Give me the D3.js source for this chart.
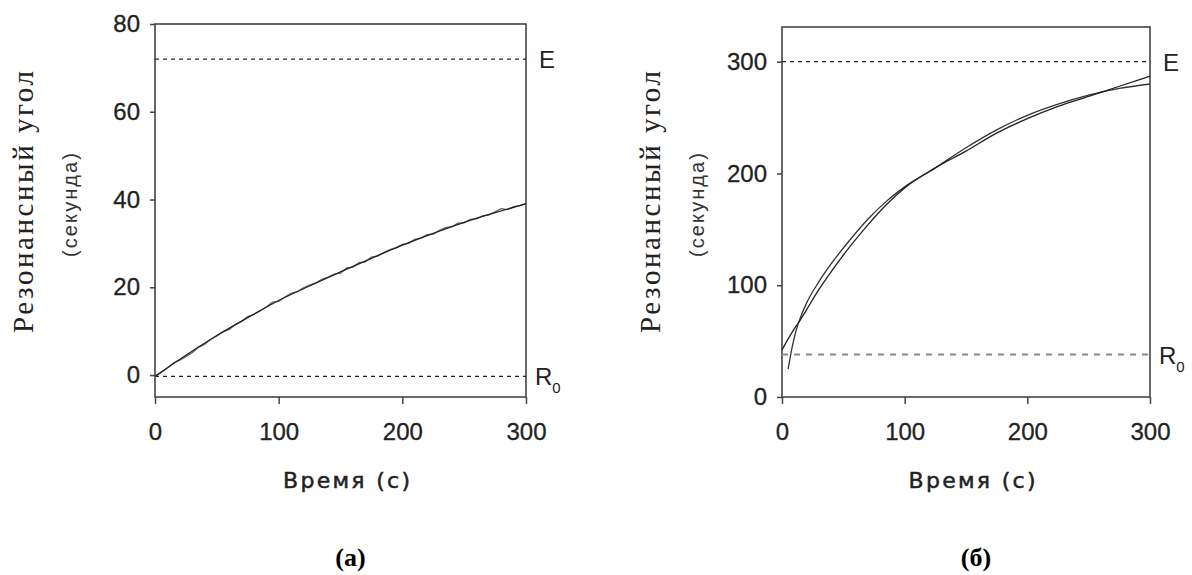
<!DOCTYPE html>
<html>
<head>
<meta charset="utf-8">
<script src="https://cdn.jsdelivr.net/npm/d3@7"></script>
<style>
  body { margin: 0; background: #fff; }
  svg { display: block; }
  .tick text { font-family: "Liberation Sans", Arial, sans-serif; font-size: 24px; fill: #222; stroke: #222; stroke-width: 0.3; }
  .tick line { stroke: #444; stroke-width: 1.5; }
</style>
</head>
<body>
<div id="chart"></div>
<script>
"use strict";

// svg size
var svgWidth = 1192;
var svgHeight = 575;

// chart (a): time axis and ticks
var timeTicks = [0, 100, 200, 300];
var ticksA = [0, 20, 40, 60, 80];
var levelEA = 72;
var levelR0A = -0.3;

// chart (a): smooth fitted curve
var fitTimeA = [0, 25, 50, 75, 100, 125, 150, 175, 200, 225, 250, 275, 300];
var fitValA = [-0.3, 4.5, 9.0, 13.1, 17.0, 20.3, 23.5, 26.6, 29.6, 32.3, 34.8, 37.0, 39.0];

// chart (a): measured trace, one reading every 5 s
var dataTimeA = [0, 5, 10, 15, 20, 25, 30, 35, 40, 45, 50, 55, 60, 65, 70, 75, 80, 85, 90, 95,
                 100, 105, 110, 115, 120, 125, 130, 135, 140, 145, 150, 155, 160, 165, 170, 175, 180, 185, 190, 195,
                 200, 205, 210, 215, 220, 225, 230, 235, 240, 245, 250, 255, 260, 265, 270, 275, 280, 285, 290, 295, 300];
var dataValA = [-0.4, 0.6, 1.6, 2.8, 3.4, 4.2, 5.1, 6.3, 7.0, 8.1, 8.9, 9.9, 10.4, 11.5, 12.2, 13.3, 13.8, 14.6, 15.5, 16.6,
                16.8, 17.8, 18.6, 19.0, 19.9, 20.5, 21.0, 21.8, 22.3, 23.0, 23.2, 24.4, 24.6, 25.6, 25.8, 26.9, 27.1, 27.9, 28.6, 29.0,
                29.8, 30.0, 30.9, 31.2, 32.0, 32.1, 33.0, 33.6, 33.8, 34.6, 34.7, 35.5, 35.6, 36.3, 36.5, 37.2, 37.9, 37.7, 38.4, 38.6, 39.1];

// chart (b)
var ticksB = [0, 100, 200, 300];
var levelEB = 300;
var levelR0B = 38;

var fitTimeB = [0, 5, 10, 15, 20, 30, 40, 55, 70, 85, 100, 125, 150, 175, 200, 225, 250, 275, 300];
var fitValB = [42, 52, 61, 69, 78, 96, 112, 134, 154, 172, 187, 205, 220, 236, 249, 260, 269, 278, 287];

var dataTimeB = [5, 8, 10, 13, 15, 20, 30, 40, 55, 70, 85, 100, 125, 150, 175, 200, 225, 250, 275, 300];
var dataValB = [25, 43, 53, 65, 71, 84, 103, 119, 140, 159, 175, 188, 205, 223, 239, 252, 262, 270, 276, 280];

var svg = d3.select("#chart").append("svg").attr("width", svgWidth).attr("height", svgHeight);

function zip(xs, ys) {
    return xs.map(function (x, i) { return {t: x, v: ys[i]}; });
}

function drawPanel(p) {
    var g = svg.append("g");
    var x = d3.scaleLinear().domain([0, 300]).range([p.left, p.right]);
    var y = d3.scaleLinear().domain(p.yDomain).range([p.bottom, p.top]);

    // frame
    g.append("rect")
        .attr("x", p.left).attr("y", p.top)
        .attr("width", p.right - p.left).attr("height", p.bottom - p.top)
        .attr("fill", "none").attr("stroke", "#444").attr("stroke-width", 1.6);

    // axes
    var xAxis = g.append("g").attr("transform", "translate(0," + p.bottom + ")")
        .call(d3.axisBottom(x).tickValues(timeTicks).tickSize(7).tickPadding(19));
    xAxis.select(".domain").remove();

    var yAxis = g.append("g").attr("transform", "translate(" + p.left + ",0)")
        .call(d3.axisLeft(y).tickValues(p.yTicks).tickSize(5).tickPadding(10));
    yAxis.select(".domain").remove();

    // reference levels
    g.append("line")
        .attr("x1", p.left).attr("x2", p.right)
        .attr("y1", y(p.levelE)).attr("y2", y(p.levelE))
        .attr("stroke", "#222").attr("stroke-width", 1.3).attr("stroke-dasharray", "4,4");
    g.append("line")
        .attr("x1", p.left).attr("x2", p.right)
        .attr("y1", y(p.levelR0)).attr("y2", y(p.levelR0))
        .attr("stroke", p.r0Color).attr("stroke-width", p.r0Width).attr("stroke-dasharray", p.r0Dash);

    g.append("text")
        .attr("x", p.right + 13).attr("y", y(p.levelE) + 9)
        .attr("font-family", "Liberation Sans, Arial, sans-serif").attr("font-size", 24).attr("fill", "#222")
        .text("E");
    var r0 = g.append("text")
        .attr("x", p.right + 9).attr("y", y(p.levelR0) + 9)
        .attr("font-family", "Liberation Sans, Arial, sans-serif").attr("font-size", 24).attr("fill", "#222");
    r0.append("tspan").text("R");
    r0.append("tspan").attr("font-size", 15).attr("dy", 8).text("0");

    // curves
    var line = d3.line()
        .x(function (d) { return x(d.t); })
        .y(function (d) { return y(d.v); });

    g.append("path").datum(zip(p.dataTime, p.dataVal))
        .attr("d", line.curve(p.dataCurve))
        .attr("fill", "none").attr("stroke", p.dataColor).attr("stroke-width", 1.3);
    g.append("path").datum(zip(p.fitTime, p.fitVal))
        .attr("d", line.curve(d3.curveMonotoneX))
        .attr("fill", "none").attr("stroke", "#222").attr("stroke-width", 1.3);

    // axis titles
    var cy = 202;
    g.append("text")
        .attr("transform", "translate(" + (p.left - 122) + "," + cy + ") rotate(-90)")
        .attr("text-anchor", "middle")
        .attr("font-family", "Liberation Serif, Times New Roman, serif").attr("font-size", 29).attr("fill", "#222")
        .attr("textLength", 262).attr("lengthAdjust", "spacing")
        .text("Резонансный угол");
    g.append("text")
        .attr("transform", "translate(" + (p.left - 78) + "," + (cy + 3) + ") rotate(-90)")
        .attr("text-anchor", "middle")
        .attr("font-family", "Liberation Sans, Arial, sans-serif").attr("font-size", 20).attr("fill", "#333")
        .attr("textLength", 104).attr("lengthAdjust", "spacing")
        .text("(секунда)");

    var mid = (p.left + p.right) / 2;
    g.append("text")
        .attr("x", mid + 6).attr("y", 488)
        .attr("text-anchor", "middle")
        .attr("font-family", "DejaVu Sans, sans-serif").attr("font-size", 22).attr("fill", "#222")
        .attr("stroke", "#222").attr("stroke-width", 0.5)
        .attr("textLength", 127).attr("lengthAdjust", "spacing")
        .text("Время  (с)");

    g.append("text")
        .attr("x", mid + 10).attr("y", 566)
        .attr("text-anchor", "middle")
        .attr("font-family", "Liberation Serif, Times New Roman, serif").attr("font-size", 26)
        .attr("font-weight", "bold").attr("fill", "#000")
        .text(p.caption);
}

drawPanel({
    left: 155, right: 526, top: 24, bottom: 397,
    yDomain: [-5, 80], yTicks: ticksA,
    levelE: levelEA, levelR0: levelR0A,
    r0Color: "#222", r0Width: 1.3, r0Dash: "4,4",
    fitTime: fitTimeA, fitVal: fitValA,
    dataTime: dataTimeA, dataVal: dataValA, dataColor: "#666", dataCurve: d3.curveLinear,
    caption: "(а)"
});

drawPanel({
    left: 782, right: 1150, top: 27, bottom: 397,
    yDomain: [0, 331], yTicks: ticksB,
    levelE: levelEB, levelR0: levelR0B,
    r0Color: "#888", r0Width: 2, r0Dash: "6,6",
    fitTime: fitTimeB, fitVal: fitValB,
    dataTime: dataTimeB, dataVal: dataValB, dataColor: "#333", dataCurve: d3.curveMonotoneX,
    caption: "(б)"
});
</script>
</body>
</html>
